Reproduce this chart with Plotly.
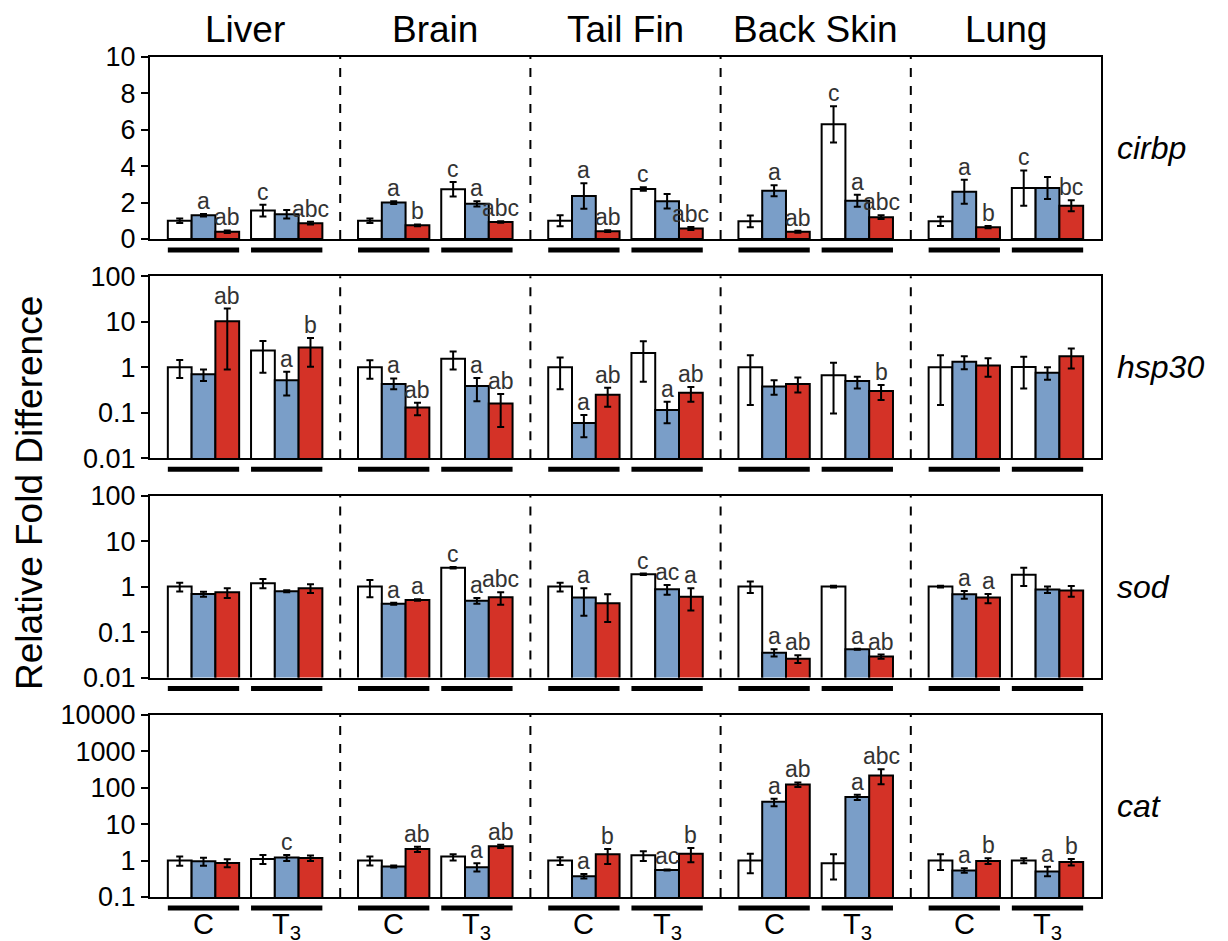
import math
import plotly.graph_objects as go
from plotly.subplots import make_subplots

# ---------------- data ----------------
tissues = ["Liver", "Brain", "Tail Fin", "Back Skin", "Lung"]
treatments = ["C", "T<sub>3</sub>"]
genes = ["cirbp", "hsp30", "sod", "cat"]
# order of 10 values: Liver C, Liver T3, Brain C, Brain T3, Tail Fin C, Tail Fin T3,
#                     Back Skin C, Back Skin T3, Lung C, Lung T3

# cirbp (linear axis, symmetric errors)
cirbp_white = [1.0, 1.56, 1.0, 2.73, 1.0, 2.75, 0.97, 6.3, 0.97, 2.8]
cirbp_white_err = [0.12, 0.32, 0.12, 0.4, 0.3, 0.1, 0.32, 1.0, 0.25, 0.97]
cirbp_blue = [1.3, 1.36, 2.0, 1.93, 2.36, 2.07, 2.65, 2.1, 2.6, 2.8]
cirbp_blue_err = [0.07, 0.23, 0.08, 0.15, 0.7, 0.4, 0.3, 0.33, 0.66, 0.6]
cirbp_red = [0.4, 0.87, 0.75, 0.93, 0.43, 0.58, 0.4, 1.2, 0.65, 1.83]
cirbp_red_err = [0.07, 0.08, 0.05, 0.04, 0.05, 0.08, 0.06, 0.1, 0.06, 0.3]
cirbp_white_lbl = ["", "c", "", "c", "", "c", "", "c", "", "c"]
cirbp_blue_lbl = ["a", "", "a", "a", "a", "", "a", "a", "a", ""]
cirbp_red_lbl = ["ab", "abc", "b", "abc", "ab", "abc", "ab", "abc", "b", "bc"]

# hsp30 (log axis; value, upper and lower error bar ends)
hsp30_white = [1.0, 2.34, 1.0, 1.54, 1.0, 2.07, 1.0, 0.67, 1.0, 1.02]
hsp30_white_hi = [1.45, 3.8, 1.43, 2.22, 1.64, 3.74, 1.85, 1.26, 1.85, 1.7]
hsp30_white_lo = [0.58, 0.76, 0.56, 0.9, 0.33, 0.48, 0.148, 0.097, 0.148, 0.34]
hsp30_blue = [0.70, 0.52, 0.43, 0.39, 0.06, 0.115, 0.38, 0.5, 1.32, 0.76]
hsp30_blue_hi = [0.90, 0.8, 0.57, 0.58, 0.089, 0.175, 0.52, 0.62, 1.75, 1.0]
hsp30_blue_lo = [0.50, 0.24, 0.33, 0.18, 0.029, 0.059, 0.25, 0.34, 0.91, 0.53]
hsp30_red = [10.3, 2.72, 0.13, 0.16, 0.25, 0.275, 0.43, 0.30, 1.1, 1.76]
hsp30_red_hi = [19.5, 4.4, 0.167, 0.26, 0.355, 0.37, 0.6, 0.41, 1.59, 2.6]
hsp30_red_lo = [0.9, 1.03, 0.088, 0.049, 0.136, 0.175, 0.28, 0.19, 0.62, 0.94]
hsp30_white_lbl = ["", "", "", "", "", "", "", "", "", ""]
hsp30_blue_lbl = ["", "a", "a", "a", "a", "a", "", "", "", ""]
hsp30_red_lbl = ["ab", "b", "ab", "ab", "ab", "ab", "", "b", "", ""]

# sod
sod_white = [1.0, 1.18, 1.0, 2.6, 1.0, 1.86, 1.0, 1.0, 1.0, 1.83]
sod_white_hi = [1.22, 1.47, 1.4, 2.7, 1.22, 1.93, 1.3, 1.04, 1.05, 2.6]
sod_white_lo = [0.78, 0.92, 0.58, 2.5, 0.78, 1.8, 0.72, 0.96, 0.95, 1.03]
sod_blue = [0.69, 0.79, 0.42, 0.49, 0.575, 0.875, 0.035, 0.042, 0.68, 0.86]
sod_blue_hi = [0.77, 0.83, 0.44, 0.56, 0.92, 1.09, 0.042, 0.043, 0.8, 1.0]
sod_blue_lo = [0.6, 0.75, 0.40, 0.42, 0.23, 0.66, 0.029, 0.041, 0.54, 0.72]
sod_red = [0.75, 0.92, 0.51, 0.585, 0.43, 0.6, 0.026, 0.029, 0.575, 0.82]
sod_red_hi = [0.92, 1.12, 0.53, 0.75, 0.68, 0.92, 0.031, 0.032, 0.69, 1.03]
sod_red_lo = [0.56, 0.72, 0.49, 0.4, 0.167, 0.3, 0.021, 0.026, 0.43, 0.6]
sod_white_lbl = ["", "", "", "c", "", "c", "", "", "", ""]
sod_blue_lbl = ["", "", "a", "a", "a", "ac", "a", "a", "a", ""]
sod_red_lbl = ["", "", "a", "abc", "", "a", "ab", "ab", "a", ""]

# cat
cat_white = [1.0, 1.11, 1.0, 1.29, 1.0, 1.4, 1.0, 0.85, 1.0, 1.0]
cat_white_hi = [1.29, 1.43, 1.29, 1.5, 1.23, 1.8, 1.55, 1.5, 1.5, 1.16]
cat_white_lo = [0.72, 0.81, 0.73, 1.0, 0.76, 0.97, 0.45, 0.3, 0.55, 0.85]
cat_blue = [0.96, 1.21, 0.69, 0.66, 0.37, 0.55, 41, 56, 0.53, 0.5]
cat_blue_hi = [1.2, 1.43, 0.73, 0.85, 0.43, 0.57, 50, 64, 0.62, 0.68]
cat_blue_lo = [0.72, 0.98, 0.65, 0.5, 0.32, 0.53, 31, 46, 0.46, 0.37]
cat_red = [0.86, 1.18, 2.08, 2.46, 1.49, 1.55, 123, 218, 0.98, 0.92]
cat_red_hi = [1.09, 1.37, 2.4, 2.7, 2.08, 2.2, 140, 320, 1.16, 1.1]
cat_red_lo = [0.66, 0.98, 1.72, 2.2, 0.81, 0.9, 105, 125, 0.81, 0.73]
cat_white_lbl = ["", "", "", "", "", "", "", "", "", ""]
cat_blue_lbl = ["", "c", "", "a", "a", "ac", "a", "a", "a", "a"]
cat_red_lbl = ["", "", "ab", "ab", "b", "b", "ab", "abc", "b", "b"]

lin_ticks = [0, 2, 4, 6, 8, 10]
log_ticks_a = [0.01, 0.1, 1, 10, 100]
log_ticks_a_text = ["0.01", "0.1", "1", "10", "100"]
log_ticks_b = [0.1, 1, 10, 100, 1000, 10000]
log_ticks_b_text = ["0.1", "1", "10", "100", "1000", "10000"]

# ---------------- styling ----------------
FONT = "Liberation Sans, Arial, Helvetica, sans-serif"
fill_colors = ["#ffffff", "#7a9ec8", "#d43227"]

rows = [
    dict(gene="cirbp", log=False,
         series=[(cirbp_white, cirbp_white_err, None, cirbp_white_lbl),
                 (cirbp_blue, cirbp_blue_err, None, cirbp_blue_lbl),
                 (cirbp_red, cirbp_red_err, None, cirbp_red_lbl)]),
    dict(gene="hsp30", log=True,
         series=[(hsp30_white, hsp30_white_hi, hsp30_white_lo, hsp30_white_lbl),
                 (hsp30_blue, hsp30_blue_hi, hsp30_blue_lo, hsp30_blue_lbl),
                 (hsp30_red, hsp30_red_hi, hsp30_red_lo, hsp30_red_lbl)]),
    dict(gene="sod", log=True,
         series=[(sod_white, sod_white_hi, sod_white_lo, sod_white_lbl),
                 (sod_blue, sod_blue_hi, sod_blue_lo, sod_blue_lbl),
                 (sod_red, sod_red_hi, sod_red_lo, sod_red_lbl)]),
    dict(gene="cat", log=True,
         series=[(cat_white, cat_white_hi, cat_white_lo, cat_white_lbl),
                 (cat_blue, cat_blue_hi, cat_blue_lo, cat_blue_lbl),
                 (cat_red, cat_red_hi, cat_red_lo, cat_red_lbl)]),
]

fig = make_subplots(rows=4, cols=1)

# the page body has an 8px default margin, so the figure is sized to fit the window
W_W, W_H = 1220, 933
M_T, M_B, M_L, M_R = 49, 44, 142, 127
plot_h = W_H - M_T - M_B
row_h, gap = 182, 37.3
domains = []
for r in range(4):
    top = plot_h - r * (row_h + gap)
    domains.append([max(0, (top - row_h) / plot_h), min(1, top / plot_h)])
domains[3][0] = 0.0


def xpos(t, k, s):
    return 8 * t + 1.25 + 3.5 * k + s


annotations = []
shapes = []
for r, row in enumerate(rows):
    ri = r + 1
    xs_ref = "x" if ri == 1 else f"x{ri}"
    ys_ref = "y" if ri == 1 else f"y{ri}"
    for s, (vals, hi, lo, lbls) in enumerate(row["series"]):
        xs = []
        for t in range(len(tissues)):
            for k in range(len(treatments)):
                xs.append(xpos(t, k, s))
        if lo is None:
            err = dict(type="data", array=hi, symmetric=True,
                       color="black", thickness=2, width=3.5)
            tops = [v + e for v, e in zip(vals, hi)]
        else:
            err = dict(type="data", symmetric=False,
                       array=[h - v for h, v in zip(hi, vals)],
                       arrayminus=[v - l for v, l in zip(vals, lo)],
                       color="black", thickness=2, width=3.5)
            tops = hi
        fig.add_trace(go.Bar(
            x=xs, y=vals, width=1.0, marker=dict(color=fill_colors[s],
                                                 line=dict(color="black", width=2)),
            error_y=err, showlegend=False, hoverinfo="y"), row=ri, col=1)
        for xv, tp, lb in zip(xs, tops, lbls):
            if lb:
                annotations.append(dict(
                    x=xv, y=math.log10(tp) if row["log"] else tp,
                    xref=xs_ref, yref=ys_ref, text=lb, showarrow=False,
                    yanchor="bottom", yshift=-1, borderpad=0,
                    font=dict(family=FONT, size=23, color="#333333")))
    # dashed separators
    for t in range(1, len(tissues)):
        shapes.append(dict(type="line", xref=xs_ref, yref=f"{ys_ref} domain",
                           x0=8 * t, x1=8 * t, y0=0, y1=1,
                           line=dict(color="black", width=2, dash="dash")))
    # under-bars
    for t in range(len(tissues)):
        for k in range(len(treatments)):
            x0 = 8 * t + 0.75 + 3.5 * k
            shapes.append(dict(type="line", xref=xs_ref, yref=f"{ys_ref} domain",
                               x0=x0, x1=x0 + 3, y0=-0.06, y1=-0.06,
                               line=dict(color="black", width=5)))
    # gene label
    annotations.append(dict(x=1, xref="paper", xanchor="left", xshift=14,
                            y=0.5, yref=f"{ys_ref} domain", yanchor="middle",
                            text=f"<i>{row['gene']}</i>", showarrow=False,
                            font=dict(family=FONT, size=32, color="black")))

    axis_common = dict(showline=True, mirror=True, linecolor="black", linewidth=2,
                       showgrid=False, zeroline=False)
    fig.update_xaxes(range=[0, 40], showticklabels=False, ticks="",
                     domain=[0, 1], row=ri, col=1, **axis_common)
    if row["log"]:
        if row["gene"] == "cat":
            tv, tt, rng = log_ticks_b, log_ticks_b_text, [-1, 4]
        else:
            tv, tt, rng = log_ticks_a, log_ticks_a_text, [-2, 2]
        fig.update_yaxes(type="log", range=rng, tickvals=tv, ticktext=tt,
                         row=ri, col=1, **axis_common)
    else:
        fig.update_yaxes(range=[0, 10], tickvals=lin_ticks, row=ri, col=1, **axis_common)
    fig.update_yaxes(domain=domains[r], ticks="outside", ticklen=7, tickwidth=2,
                     tickcolor="black",
                     tickfont=dict(family=FONT, size=27, color="black"),
                     row=ri, col=1)

# tissue titles
for t, name in enumerate(tissues):
    annotations.append(dict(x=8 * t + 4, xref="x", y=1, yref="paper",
                            yanchor="bottom", yshift=5, text=name, showarrow=False,
                            font=dict(family=FONT, size=37, color="black")))
# treatment labels
for t in range(len(tissues)):
    for k, tr in enumerate(treatments):
        annotations.append(dict(x=8 * t + 2.25 + 3.5 * k, xref="x4", y=0, yref="paper",
                                yanchor="top", yshift=-9, text=tr, showarrow=False,
                                font=dict(family=FONT, size=29, color="black")))
# y title
annotations.append(dict(x=0, xref="paper", xshift=-120, xanchor="center",
                        y=0.481, yref="paper", yanchor="middle", textangle=-90,
                        text="Relative Fold Difference", showarrow=False,
                        font=dict(family=FONT, size=37, color="black")))

fig.update_layout(width=W_W, height=W_H,
                  margin=dict(l=M_L, r=M_R, t=M_T, b=M_B),
                  barmode="overlay", plot_bgcolor="white", paper_bgcolor="white",
                  annotations=annotations, shapes=shapes,
                  font=dict(family=FONT, color="black"))

fig.write_html("out.html")
